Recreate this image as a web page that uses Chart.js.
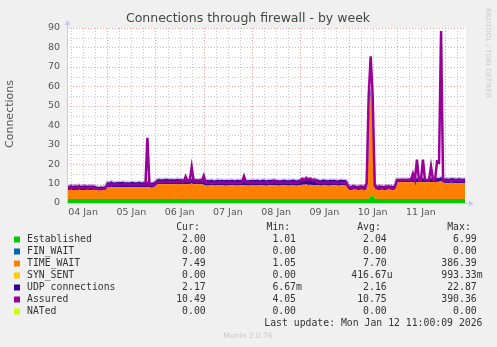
<!DOCTYPE html>
<html>
<head>
<meta charset="utf-8">
<script src="https://cdn.jsdelivr.net/npm/chart.js@4.4.1/dist/chart.umd.min.js"></script>
<style>
  html, body { margin: 0; padding: 0; background: #f0f0f0; }
  canvas { display: block; }
</style>
</head>
<body>
<canvas id="fwChart" width="497" height="347"></canvas>
<script>
// hourly samples, first one is 04 Jan 04:00 (hours counted from 04 Jan 00:00)
const startHour = 4;
const endHour = 202.4;
const dayLabels = ['04 Jan', '05 Jan', '06 Jan', '07 Jan', '08 Jan', '09 Jan', '10 Jan', '11 Jan'];

const established = [
    2.0, 2.1, 2.0, 2.0, 2.1, 2.0, 2.0, 2.0, 2.1, 2.0, 2.0, 2.0, 2.0, 2.1, 2.0, 2.0, 2.0, 2.0, 2.0, 2.0,
    2.0, 2.0, 2.1, 2.0, 2.0, 2.0, 2.0, 2.1, 2.0, 2.0, 2.0, 2.0, 2.0, 2.1, 2.0, 2.0, 2.0, 2.0, 2.0, 2.0, 2.1, 2.0, 2.0, 2.0,
    2.1, 2.1, 2.1, 2.1, 2.2, 2.1, 2.1, 2.1, 2.1, 2.1, 2.2, 2.1, 2.1, 2.1, 2.1, 2.1, 2.1, 2.2, 2.1, 2.1, 2.1, 2.1, 2.1, 2.1,
    2.1, 2.0, 2.0, 2.0, 2.0, 2.0, 2.0, 2.1, 2.0, 2.0, 2.0, 2.0, 2.0, 2.0, 2.0, 2.1, 2.0, 2.0, 2.0, 2.0, 2.0, 2.0, 2.0, 2.0,
    2.0, 2.0, 2.0, 2.1, 2.0, 2.0, 2.0, 2.0, 2.0, 2.0, 2.0, 2.0, 2.1, 2.0, 2.0, 2.0, 2.0, 2.0, 2.0, 2.0, 2.1, 2.0, 2.0, 2.0,
    2.0, 2.0, 2.1, 2.0, 2.0, 2.0, 2.0, 2.0, 2.0, 2.1, 2.0, 2.0, 2.0, 2.0, 2.0, 2.0, 2.1, 2.0, 2.0, 2.0, 2.0, 2.0, 2.0, 2.0,
    2.0, 2.0, 2.0, 2.0, 2.0, 2.0, 2.0, 2.0, 2.0, 2.0, 2.2, 3.4, 3.9, 2.5, 2.0, 2.0, 2.0, 2.0, 2.0, 2.0, 2.0, 2.0, 2.0, 2.0,
    2.0, 2.0, 2.0, 2.0, 2.0, 2.1, 2.0, 2.0, 2.0, 2.0, 2.0, 2.0, 2.1, 2.0, 2.0, 2.0, 2.0, 2.0, 2.1, 2.0, 2.0, 2.0, 2.0, 2.0,
    2.0, 2.0, 2.0, 2.0, 2.0, 2.0, 2.0, 2.0, 2.0, 2.0, 2.0
];
const timeWait = [
    4.7, 4.6, 4.8, 4.7, 4.6, 4.7, 4.8, 4.7, 4.6, 4.7, 4.8, 4.7, 4.6, 4.7, 4.7, 4.6, 4.6, 4.7, 4.6, 4.7,
    6.1, 6.0, 6.2, 6.1, 6.0, 6.1, 6.2, 6.1, 6.1, 6.0, 6.1, 6.2, 6.1, 6.1, 6.0, 6.1, 6.2, 6.1, 6.1, 6.0, 6.2, 6.0, 5.9, 6.0,
    6.6, 7.6, 7.7, 7.6, 7.5, 7.6, 7.7, 7.6, 7.6, 7.5, 7.6, 7.7, 7.6, 7.6, 7.5, 7.7, 7.6, 7.6, 7.9, 7.6, 7.5, 7.6, 7.6, 7.7,
    7.3, 7.0, 6.9, 7.0, 7.1, 7.0, 6.9, 7.0, 7.0, 7.1, 7.0, 6.9, 7.0, 7.0, 7.1, 7.0, 6.9, 7.0, 7.0, 7.1, 7.2, 7.0, 6.9, 7.0,
    7.0, 7.1, 6.9, 7.0, 7.0, 7.1, 7.0, 6.9, 7.0, 7.1, 7.0, 7.2, 7.0, 6.9, 7.0, 7.0, 7.1, 7.0, 6.9, 7.0, 7.1, 7.0, 6.9, 7.0,
    7.2, 7.4, 7.3, 7.5, 7.3, 7.4, 7.2, 7.3, 7.2, 7.0, 6.9, 7.0, 7.1, 7.0, 6.9, 7.0, 7.0, 7.1, 7.0, 6.9, 7.0, 7.1, 7.0, 6.9,
    4.8, 4.7, 4.8, 4.9, 4.8, 4.7, 4.8, 4.8, 4.7, 4.9, 22.8, 52.6, 31.1, 4.9, 4.8, 4.7, 4.8, 4.8, 4.7, 4.8, 4.9, 4.8, 4.7, 4.8,
    8.7, 8.6, 8.7, 8.8, 8.7, 8.6, 8.7, 8.7, 8.8, 8.7, 8.6, 8.7, 8.8, 8.7, 8.6, 8.7, 8.7, 8.8, 8.7, 8.6, 8.8, 8.9, 9.3, 8.6,
    8.3, 8.2, 8.3, 8.4, 8.3, 8.2, 8.3, 8.3, 8.2, 8.3, 8.3
];
const udp = [
    2.4, 2.0, 2.5, 2.1, 2.4, 2.2, 2.5, 2.0, 2.3, 2.4, 2.1, 2.3, 2.4, 2.2, 2.0, 1.8, 1.6, 1.8, 1.7, 1.9,
    2.6, 2.5, 2.9, 2.4, 2.6, 2.7, 2.5, 2.6, 2.8, 2.5, 2.6, 2.4, 2.7, 2.6, 2.5, 2.6, 2.7, 2.5, 2.6, 2.4, 2.8, 2.4, 2.5, 2.6,
    2.6, 2.5, 2.6, 2.4, 2.5, 2.7, 2.5, 2.4, 2.6, 2.5, 2.4, 2.6, 2.5, 2.5, 2.4, 2.6, 2.5, 2.6, 2.4, 2.5, 2.6, 2.4, 2.5, 2.6,
    2.7, 2.8, 2.9, 2.7, 2.8, 2.6, 2.8, 2.9, 2.7, 2.8, 2.7, 2.9, 2.8, 2.7, 2.8, 2.6, 2.8, 2.9, 2.7, 2.8, 3.0, 2.8, 2.7, 2.8,
    2.8, 2.7, 2.9, 2.8, 2.6, 2.8, 2.9, 2.7, 2.8, 2.7, 2.9, 2.8, 2.7, 2.8, 2.6, 2.8, 2.9, 2.7, 2.8, 2.7, 2.8, 2.9, 2.7, 2.8,
    3.0, 3.3, 3.1, 3.4, 3.2, 3.3, 3.1, 3.2, 3.0, 2.8, 2.7, 2.9, 2.8, 2.7, 2.8, 2.9, 2.7, 2.8, 2.6, 2.8, 2.9, 2.7, 2.8, 2.7,
    2.2, 2.1, 2.3, 2.2, 2.0, 2.2, 2.3, 2.1, 2.2, 2.3, 2.5, 3.0, 2.6, 2.2, 2.1, 2.3, 2.2, 2.0, 2.2, 2.3, 2.1, 2.2, 2.1, 2.2,
    1.8, 1.7, 1.8, 1.6, 1.7, 1.8, 1.7, 1.9, 2.0, 1.7, 2.1, 1.8, 1.7, 2.0, 1.8, 1.7, 1.8, 1.9, 1.7, 1.8, 2.0, 1.8, 1.9, 1.8,
    2.3, 2.4, 2.2, 2.3, 2.4, 2.3, 2.2, 2.4, 2.3, 2.2, 2.3
];
const assured = [
    8.1, 7.6, 8.2, 7.7, 8.0, 7.8, 8.1, 7.6, 7.9, 8.0, 7.7, 8.0, 8.1, 7.8, 7.6, 7.3, 7.1, 7.3, 7.2, 7.5,
    9.5, 9.4, 9.8, 9.3, 9.5, 9.6, 9.4, 9.5, 9.7, 9.4, 9.5, 9.3, 9.6, 9.5, 9.4, 9.5, 9.6, 9.4, 9.5, 9.3, 33.5, 9.2, 9.2, 9.3,
    10.0, 11.0, 11.1, 10.9, 10.8, 11.0, 11.1, 10.9, 11.0, 10.8, 10.9, 11.1, 11.0, 11.0, 10.8, 13.5, 11.0, 11.2, 18.5, 11.3, 11.0, 10.9, 11.0, 11.1,
    14.0, 10.4, 10.5, 10.3, 10.5, 10.4, 10.3, 10.5, 10.4, 10.6, 10.4, 10.3, 10.5, 10.4, 10.5, 10.4, 10.3, 10.5, 10.4, 10.5, 13.7, 10.6, 10.4, 10.5,
    10.5, 10.4, 10.6, 10.5, 10.3, 10.5, 10.6, 10.4, 10.5, 10.4, 10.6, 11.5, 10.4, 10.5, 10.3, 10.5, 10.6, 10.4, 10.5, 10.4, 10.5, 10.6, 10.4, 10.5,
    11.2, 12.4, 11.6, 12.8, 11.9, 12.5, 11.5, 12.0, 11.3, 10.5, 10.4, 10.6, 10.5, 10.4, 10.5, 10.6, 10.4, 10.5, 10.3, 10.5, 10.6, 10.4, 10.5, 10.4,
    8.0, 7.9, 8.1, 8.0, 7.8, 8.0, 8.1, 7.9, 8.0, 10.0, 55.0, 75.5, 55.0, 9.0, 8.0, 8.1, 7.9, 7.8, 8.0, 8.1, 7.9, 8.0, 7.9, 8.0,
    11.6, 11.8, 11.7, 11.9, 11.8, 11.7, 11.9, 11.8, 15.1, 11.9, 22.3, 11.8, 11.9, 22.3, 11.8, 11.7, 11.9, 18.8, 11.8, 11.9, 21.4, 21.0, 88.5, 12.0,
    11.5, 11.6, 11.4, 11.5, 11.6, 11.5, 11.4, 11.6, 11.5, 11.4, 11.5
];

// legend table
const legendNames = ['Established', 'FIN_WAIT', 'TIME_WAIT', 'SYN_SENT', 'UDP connections', 'Assured', 'NATed'];
const legendColors = ['#00cc00', '#0066b3', '#ff8000', '#ffcc00', '#330099', '#990099', '#ccff00'];
const curValues = ['2.00', '0.00', '7.49', '0.00', '2.17', '10.49', '0.00'];
const minValues = ['1.01', '0.00', '1.05', '0.00', '6.67m', '4.05', '0.00'];
const avgValues = ['2.04', '0.00', '7.70', '416.67u', '2.16', '10.75', '0.00'];
const maxValues = ['6.99', '0.00', '386.39', '993.33m', '22.87', '390.36', '0.00'];

document.addEventListener('DOMContentLoaded', function () {
    initFirewallChart();
});

function toPoints(values) {
    return values.map(function (v, i) {
        return { x: startHour + i, y: v };
    });
}

const muninFrame = {
    id: 'muninFrame',
    beforeDraw(chart) {
        const ctx = chart.ctx;
        const area = chart.chartArea;
        ctx.save();
        ctx.fillStyle = '#f0f0f0';
        ctx.fillRect(0, 0, chart.width, chart.height);
        ctx.fillStyle = '#ffffff';
        ctx.fillRect(area.left, area.top, area.right - area.left, area.bottom - area.top);
        ctx.restore();
    },
    beforeDatasetsDraw(chart) {
        const ctx = chart.ctx;
        const area = chart.chartArea;
        const xs = chart.scales.x;
        const ys = chart.scales.y;
        ctx.save();
        ctx.lineWidth = 1;
        ctx.setLineDash([1, 2]);
        for (let v = 5; v <= 90; v += 5) {
            const py = Math.round(ys.getPixelForValue(v)) + 0.5;
            ctx.strokeStyle = v % 10 === 0 ? 'rgba(230, 90, 90, 0.55)' : 'rgba(150, 150, 150, 0.5)';
            ctx.beginPath();
            ctx.moveTo(area.left, py);
            ctx.lineTo(area.right, py);
            ctx.stroke();
        }
        for (let t = 6; t < endHour; t += 6) {
            const px = Math.round(xs.getPixelForValue(t)) + 0.5;
            ctx.strokeStyle = t % 24 === 0 ? 'rgba(230, 90, 90, 0.55)' : 'rgba(150, 150, 150, 0.5)';
            ctx.beginPath();
            ctx.moveTo(px, area.top);
            ctx.lineTo(px, area.bottom);
            ctx.stroke();
        }
        ctx.restore();
    },
    afterDatasetsDraw(chart) {
        const ctx = chart.ctx;
        const area = chart.chartArea;
        const left = Math.round(area.left) + 0.5;
        const bottom = Math.round(area.bottom) + 0.5;
        ctx.save();
        ctx.strokeStyle = '#c8c8f8';
        ctx.fillStyle = '#c8c8f8';
        ctx.lineWidth = 1;
        ctx.beginPath();
        ctx.moveTo(left, area.top - 4);
        ctx.lineTo(left, bottom);
        ctx.lineTo(area.right + 4, bottom);
        ctx.stroke();
        // arrows
        ctx.beginPath();
        ctx.moveTo(left - 3, area.top - 3);
        ctx.lineTo(left + 3, area.top - 3);
        ctx.lineTo(left, area.top - 8);
        ctx.closePath();
        ctx.fill();
        ctx.beginPath();
        ctx.moveTo(area.right + 3, bottom - 3);
        ctx.lineTo(area.right + 3, bottom + 3);
        ctx.lineTo(area.right + 8, bottom);
        ctx.closePath();
        ctx.fill();
        ctx.restore();
    },
    afterDraw(chart) {
        const ctx = chart.ctx;
        ctx.save();
        ctx.textBaseline = 'middle';

        ctx.fillStyle = '#444';
        ctx.font = '12.5px "DejaVu Sans"';
        ctx.textAlign = 'center';
        ctx.fillText('Connections through firewall - by week', 248, 19);

        ctx.save();
        ctx.translate(10, 114);
        ctx.rotate(-Math.PI / 2);
        ctx.fillStyle = '#555';
        ctx.font = '11px "DejaVu Sans"';
        ctx.fillText('Connections', 0, 0);
        ctx.restore();

        ctx.save();
        ctx.translate(487.5, 53);
        ctx.rotate(Math.PI / 2);
        ctx.fillStyle = '#cccccc';
        ctx.font = '7px "DejaVu Sans"';
        ctx.fillText('RRDTOOL / TOBI OETIKER', 0, 0);
        ctx.restore();

        ctx.font = '9.8px "DejaVu Sans Mono"';
        ctx.fillStyle = '#333';
        const charW = ctx.measureText('0').width;
        const colEnds = [205.7, 296, 386.7, 476.7];
        const headers = ['Cur:', 'Min:', 'Avg:', 'Max:'];
        ctx.textAlign = 'right';
        headers.forEach(function (h, i) {
            ctx.fillText(h, colEnds[i] - charW, 227.5);
        });
        const cols = [curValues, minValues, avgValues, maxValues];
        legendNames.forEach(function (name, r) {
            const y = 239.5 + r * 12;
            ctx.fillStyle = legendColors[r];
            ctx.fillRect(14, y - 3, 6, 6);
            ctx.fillStyle = '#333';
            ctx.textAlign = 'left';
            ctx.fillText(name, 27, y);
            ctx.textAlign = 'right';
            cols.forEach(function (col, c) {
                const s = col[r];
                const hasUnit = /[a-z]$/.test(s);
                ctx.fillText(s, colEnds[c] + (hasUnit ? charW : 0), y);
            });
        });
        ctx.textAlign = 'right';
        ctx.fillText('Last update: Mon Jan 12 11:00:09 2026', 482.5, 323.7);

        ctx.textAlign = 'center';
        ctx.fillStyle = '#c8c8c8';
        ctx.font = '7.5px "DejaVu Sans"';
        ctx.fillText('Munin 2.0.76', 248, 336);
        ctx.restore();
    }
};

function initFirewallChart() {
    const ctx = document.getElementById('fwChart').getContext('2d');
    new Chart(ctx, {
        type: 'line',
        data: {
            datasets: [{
                label: 'Established',
                data: toPoints(established),
                backgroundColor: '#00cc00',
                borderWidth: 0,
                fill: 'origin'
            }, {
                label: 'TIME_WAIT',
                data: toPoints(timeWait),
                backgroundColor: '#ff8000',
                borderWidth: 0,
                fill: '-1'
            }, {
                label: 'UDP connections',
                data: toPoints(udp),
                backgroundColor: '#330099',
                borderColor: 'rgba(51, 0, 153, 0.25)',
                borderWidth: 3,
                fill: '-1'
            }, {
                label: 'Assured',
                data: toPoints(assured),
                borderColor: '#990099',
                borderWidth: 2.5,
                fill: false,
                stack: 'assured',
                order: -1
            }]
        },
        options: {
            responsive: false,
            animation: false,
            devicePixelRatio: 1,
            elements: {
                point: { radius: 0 },
                line: { tension: 0 }
            },
            layout: {
                padding: { left: 0, top: 28, right: 31, bottom: 124 }
            },
            plugins: {
                legend: { display: false },
                title: { display: false },
                tooltip: { enabled: false }
            },
            scales: {
                x: {
                    type: 'linear',
                    min: startHour,
                    max: endHour,
                    grid: { display: false, drawTicks: false },
                    border: { display: false },
                    afterBuildTicks: function (scale) {
                        scale.ticks = dayLabels.map(function (_, i) {
                            return { value: 12 + 24 * i };
                        });
                    },
                    afterFit: function (scale) {
                        scale.height = 20;
                    },
                    ticks: {
                        autoSkip: false,
                        maxRotation: 0,
                        padding: 4,
                        color: '#555',
                        font: { family: 'DejaVu Sans', size: 9.5 },
                        callback: function (value, index) {
                            return dayLabels[index];
                        }
                    }
                },
                y: {
                    stacked: true,
                    min: 0,
                    max: 90,
                    grid: { display: false, drawTicks: false },
                    border: { display: false },
                    afterFit: function (scale) {
                        scale.width = 67;
                    },
                    ticks: {
                        stepSize: 10,
                        padding: 7,
                        color: '#555',
                        font: { family: 'DejaVu Sans', size: 9.5 }
                    }
                }
            }
        },
        plugins: [muninFrame]
    });
}
</script>
</body>
</html>
